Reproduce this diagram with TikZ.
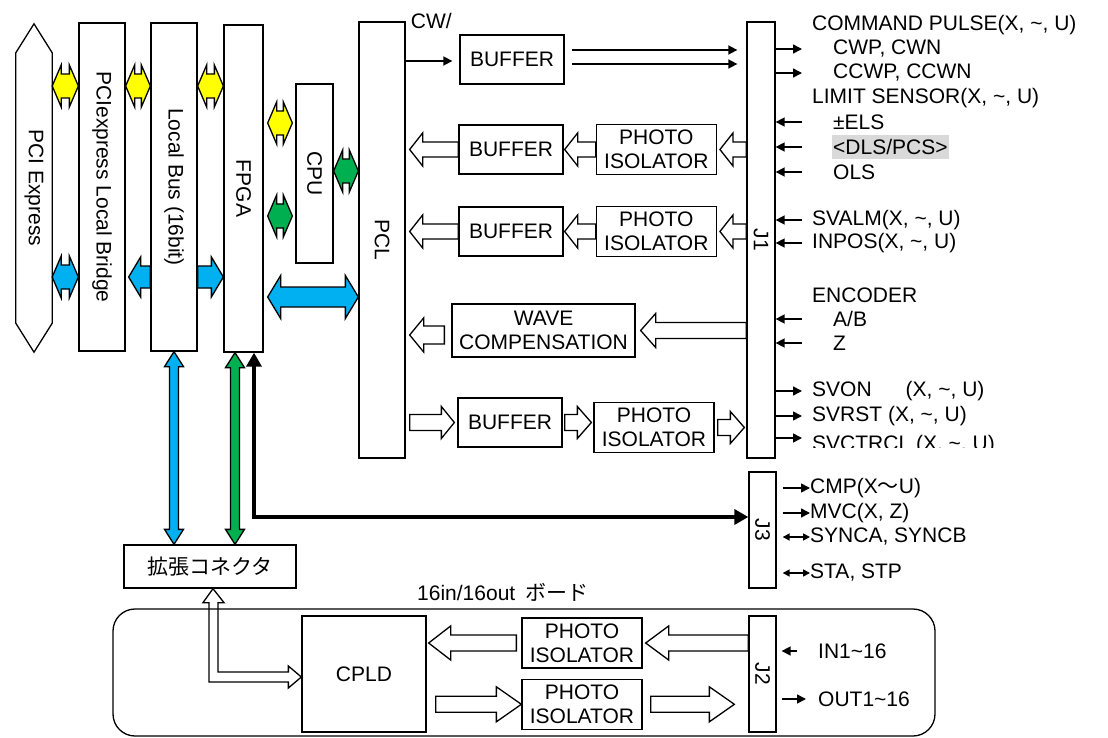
\documentclass[tikz,border=0pt]{standalone}
\usepackage{fontspec}
\setmainfont{Liberation Sans}
\newfontfamily\cjk{Noto Sans CJK JP}
\usepackage{graphicx}
\usepackage{tikz}
\usetikzlibrary{arrows.meta, positioning, calc}
\definecolor{busyellow}{HTML}{FFFF00}
\definecolor{busgreen}{HTML}{00B050}
\definecolor{busblue}{HTML}{00B0F0}
\definecolor{hilite}{HTML}{D9D9D9}
% block arrow: style, tail, tip, shaft half width, head half width, head length
\newcommand{\blkarrow}[6]{%
  \draw[#1] ($#2!#4pt!90:#3$) -- ($#3!#6pt!#2!#4pt!-90:#2$) -- ($#3!#6pt!#2!#5pt!-90:#2$) -- #3
    -- ($#3!#6pt!#2!#5pt!90:#2$) -- ($#3!#6pt!#2!#4pt!90:#2$) -- ($#2!#4pt!-90:#3$) -- cycle;}
\newcommand{\blkdarrow}[6]{%
  \draw[#1] #2 -- ($#2!#6pt!#3!#5pt!90:#3$) -- ($#2!#6pt!#3!#4pt!90:#3$) -- ($#3!#6pt!#2!#4pt!-90:#2$)
    -- ($#3!#6pt!#2!#5pt!-90:#2$) -- #3 -- ($#3!#6pt!#2!#5pt!90:#2$) -- ($#3!#6pt!#2!#4pt!90:#2$)
    -- ($#2!#6pt!#3!#4pt!-90:#3$) -- ($#2!#6pt!#3!#5pt!-90:#3$) -- cycle;}
\begin{document}
\begin{tikzpicture}[x=1pt, y=-1pt,
  font=\fontsize{21}{24}\selectfont,
  box/.style={draw, line width=1.3pt, fill=white, align=center, inner sep=0pt},
  pibox/.style={box, minimum width=120, minimum height=50},
  bufbox/.style={box, minimum width=104, minimum height=49},
  tag/.style={anchor=west, inner sep=0pt},
  hollow/.style={draw, line width=1.3pt, fill=white},
  ybus/.style={hollow, fill=busyellow},
  gbus/.style={hollow, fill=busgreen},
  bbus/.style={hollow, fill=busblue},
  sig/.style={-{Triangle[length=9pt, width=9pt]}, line width=1.6pt},
  sig2/.style={{Triangle[length=7pt, width=7pt]}-{Triangle[length=7pt, width=7pt]}, line width=1.6pt},
  heavy/.style={{Triangle[length=14pt, width=15pt]}-{Triangle[length=14pt, width=15pt]}, line width=4.5pt}
]
\useasboundingbox (0,0) rectangle (1108,738);

\node[minimum width=36, minimum height=270, inner sep=0pt] (pcie) at (34,188) {\rotatebox{-90}{PCI Express}};
\draw[line width=1.3pt] (pcie.north west) -- ($(pcie.north)+(0,-29)$) -- (pcie.north east) -- (pcie.south east) -- ($(pcie.south)+(0,29)$) -- (pcie.south west) -- cycle;
\node[box, minimum width=46, minimum height=328] (bridge) at (102,187) {\rotatebox{-90}{PCIexpress Local Bridge}};
\node[box, minimum width=46, minimum height=328] (lbus) at (174,187) {\rotatebox{-90}{Local Bus (16bit)}};
\node[box, minimum width=39, minimum height=327] (fpga) at (243.5,188.5) {\rotatebox{-90}{FPGA}};
\node[box, minimum width=37, minimum height=179] (cpu) at (314.5,173.5) {\rotatebox{-90}{CPU}};
\node[box, minimum width=46, minimum height=436] (pcl) at (382,240) {\rotatebox{-90}{PCL}};
\node[box, minimum width=28, minimum height=436] (j1) at (761,240) {\rotatebox{-90}{J1}};
\node[box, minimum width=27, minimum height=116] (j3) at (762.5,530) {\rotatebox{-90}{J3}};
\node[box, minimum width=27, minimum height=116] (j2) at (762.5,674) {\rotatebox{-90}{J2}};

\node[bufbox] (buf1) at (512,59.5) {BUFFER};
\node[bufbox] (buf2) at (511,149.5) {BUFFER};
\node[pibox, right=32pt of buf2] (pi2) {PHOTO\\ISOLATOR};
\node[bufbox] (buf3) at (511,231.5) {BUFFER};
\node[pibox, right=32pt of buf3] (pi3) {PHOTO\\ISOLATOR};
\node[box, minimum width=183, minimum height=53] (wave) at (543.5,330.5) {WAVE\\COMPENSATION};
\node[bufbox] (buf5) at (510,422.5) {BUFFER};
\node[pibox] (pi5) at (654,427.5) {PHOTO\\ISOLATOR};
\node[box, minimum width=172, minimum height=43] (conn) at (210,566.5) {\cjk 拡張コネクタ};
\node[box, minimum width=124, minimum height=116] (cpld) at (364,674) {CPLD};
\node[pibox] (pi6) at (582,643) {PHOTO\\ISOLATOR};
\node[pibox, below=10pt of pi6] (pi7) {PHOTO\\ISOLATOR};
\node[tag, anchor=west] (cw) at ([xshift=5pt]pcl.north east) {CW/};
\node[tag] (boardlbl) at (417,592) {16in/16out\hspace{10pt}{\cjk ボード}};

\coordinate (busrow) at (0,86);
\coordinate (cpuup) at (0,123);
\coordinate (cpupcl) at (0,171);
\coordinate (cpudn) at (0,216);
\coordinate (lbrow) at (0,277);
\coordinate (pclbus) at (0,297);
\coordinate (fpgaE) at ([xshift=4pt]fpga.east);
\coordinate (cpuW) at ([xshift=-3pt]cpu.west);
\coordinate (bridgeE) at ([xshift=3pt]bridge.east);
\blkdarrow{ybus}{(pcie.east |- busrow)}{(bridge.west |- busrow)}{12}{21}{9}
\blkdarrow{ybus}{(bridge.east |- busrow)}{(lbus.west |- busrow)}{12}{21}{9}
\blkdarrow{ybus}{(lbus.east |- busrow)}{(fpga.west |- busrow)}{12}{21}{9}
\blkdarrow{ybus}{(fpgaE |- cpuup)}{(cpuW |- cpuup)}{12}{21}{9}
\blkdarrow{gbus}{(cpu.east |- cpupcl)}{(pcl.west |- cpupcl)}{12}{21}{9}
\blkdarrow{gbus}{(fpgaE |- cpudn)}{(cpuW |- cpudn)}{12}{21}{9}
\blkdarrow{bbus}{(pcie.east |- lbrow)}{(bridge.west |- lbrow)}{12}{21}{9}
\blkarrow{bbus}{(lbus.west |- lbrow)}{(bridgeE |- lbrow)}{11}{20}{12}
\blkarrow{bbus}{(lbus.east |- lbrow)}{(fpga.west |- lbrow)}{11}{20}{12}
\blkdarrow{bbus}{(fpgaE |- pclbus)}{(pcl.west |- pclbus)}{10}{21.5}{13}

\coordinate (fpgaS1) at ([xshift=-8.5pt]fpga.south);
\coordinate (fpgaS2) at ([xshift=10.5pt]fpga.south);
\coordinate (cmprow) at (0,517);
\blkdarrow{bbus}{(lbus.south)}{(lbus.south |- conn.north)}{4.5}{9.5}{15}
\blkdarrow{gbus}{(fpgaS1)}{(fpgaS1 |- conn.north)}{4.5}{9.5}{15}
\draw[heavy] (fpgaS2) -- (fpgaS2 |- cmprow) -- (j3.west |- cmprow);

\coordinate (cwrow) at (0,61);
\coordinate (pulseA) at (0,50);
\coordinate (pulseB) at (0,64);
\coordinate (buf1W) at ([xshift=-7pt]buf1.west);
\coordinate (buf1E) at ([xshift=7pt]buf1.east);
\coordinate (j1W) at ([xshift=-9pt]j1.west);
\draw[sig] (pcl.east |- cwrow) -- (buf1W |- cwrow);
\draw[sig] (buf1E |- pulseA) -- (j1W |- pulseA);
\draw[sig] (buf1E |- pulseB) -- (j1W |- pulseB);

\coordinate (pclE) at ([xshift=4pt]pcl.east);
\coordinate (pi2E) at ([xshift=3pt]pi2.east);
\coordinate (buf2E) at ([xshift=1pt]buf2.east);
\coordinate (pi3E) at ([xshift=3pt]pi3.east);
\coordinate (buf3E) at ([xshift=1pt]buf3.east);
\blkarrow{hollow}{(j1.west |- pi2.east)}{(pi2E)}{7.5}{16.5}{13}
\blkarrow{hollow}{(pi2.west)}{(buf2E |- pi2.west)}{7.5}{16.5}{13}
\blkarrow{hollow}{(buf2.west)}{(pclE |- buf2.west)}{7.5}{16.5}{13}
\blkarrow{hollow}{(j1.west |- pi3.east)}{(pi3E)}{7.5}{16.5}{13}
\blkarrow{hollow}{(pi3.west)}{(buf3E |- pi3.west)}{7.5}{16.5}{13}
\blkarrow{hollow}{(buf3.west)}{(pclE |- buf3.west)}{7.5}{16.5}{13}

\coordinate (waveE) at ([xshift=5pt]wave.east);
\coordinate (waveW) at ([xshift=-7pt]wave.west);
\coordinate (wavelo) at (0,335);
\blkarrow{hollow}{(j1.west |- wave.east)}{(waveE)}{8}{17}{15}
\blkarrow{hollow}{(waveW |- wavelo)}{(pclE |- wavelo)}{9}{17}{14}

\coordinate (buf5W) at ([xshift=-3pt]buf5.west);
\coordinate (buf5E) at ([xshift=2pt]buf5.east);
\coordinate (pi5W) at ([xshift=-2pt]pi5.west);
\coordinate (pi5E) at ([xshift=3pt]pi5.east);
\coordinate (j1Wb) at ([xshift=-2pt]j1.west);
\blkarrow{hollow}{(pclE |- buf5.west)}{(buf5W)}{8}{16}{13}
\blkarrow{hollow}{(buf5E)}{(pi5W |- buf5E)}{8}{16}{14}
\blkarrow{hollow}{(pi5E)}{(j1Wb |- pi5E)}{8}{16}{14}

\coordinate (pi6W) at ([xshift=-5pt]pi6.west);
\coordinate (pi6E) at ([xshift=3pt]pi6.east);
\coordinate (cpldE) at ([xshift=2pt]cpld.east);
\coordinate (cpldE2) at ([xshift=9pt]cpld.east);
\coordinate (pi7E) at ([xshift=8pt]pi7.east);
\coordinate (j2W) at ([xshift=-14pt]j2.west);
\blkarrow{hollow}{(j2.west |- pi6.east)}{(pi6E)}{8}{17}{23}
\blkarrow{hollow}{(pi6W)}{(cpldE |- pi6W)}{8}{17}{22}
\blkarrow{hollow}{(cpldE2 |- pi7.west)}{(pi7.west)}{8}{17.5}{25}
\blkarrow{hollow}{(pi7E)}{(j2W |- pi7E)}{8}{17.5}{25}

\coordinate (lup) at ([xshift=3pt]conn.south);
\coordinate (lrt) at ([yshift=-3pt]cpld.west);
\draw[hollow] let \p1=(lup), \p2=(lrt) in
  (\p1) -- (\x1+11pt,\y1-14pt) -- (\x1+5pt,\y1-14pt) -- (\x1+5pt,\y2+5pt) -- (\x2-13pt,\y2+5pt)
  -- (\x2-13pt,\y2+11pt) -- (\p2) -- (\x2-13pt,\y2-11pt) -- (\x2-13pt,\y2-5pt) -- (\x1-4pt,\y2-5pt)
  -- (\x1-4pt,\y1-14pt) -- (\x1-10pt,\y1-14pt) -- cycle;
\node[draw, line width=1.3pt, rounded corners=22pt, minimum width=822, minimum height=127] (board) at (524,672.5) {};

\node[tag] (cmd) at (812,25) {COMMAND PULSE(X, \textasciitilde, U)};
\node[tag] (cwp) at (833,49) {CWP, CWN};
\node[tag] (ccwp) at (833,73) {CCWP, CCWN};
\node[tag] (lim) at (812,98) {LIMIT SENSOR(X, \textasciitilde, U)};
\node[tag] (els) at (833,122) {±ELS};
\node[tag, fill=hilite, minimum height=24, inner xsep=1pt] (dls) at (832,147) {<DLS/PCS>};
\node[tag] (ols) at (833,172) {OLS};
\node[tag] (svalm) at (812,220) {SVALM(X, \textasciitilde, U)};
\node[tag] (inpos) at (812,243) {INPOS(X, \textasciitilde, U)};
\node[tag] (enc) at (812,295) {ENCODER};
\node[tag] (ab) at (833,319) {A/B};
\node[tag] (zph) at (833,343) {Z};
\node[tag] (svon) at (812,391) {SVON\hspace{34pt}(X, \textasciitilde, U)};
\node[tag] (svrst) at (812,416) {SVRST (X, \textasciitilde, U)};
\begin{scope}
  \clip (805,425) rectangle (1000,447);
  \node[tag] (svctrcl) at (812,445) {SVCTRCL (X, \textasciitilde, U)};
\end{scope}
\coordinate (ctrlrow) at (0,438);

\coordinate (sigx) at (802,0);
\draw[sig] (j1.east |- cwp) -- (sigx |- cwp);
\draw[sig] (j1.east |- ccwp) -- (sigx |- ccwp);
\draw[sig] (sigx |- els) -- (j1.east |- els);
\draw[sig] (sigx |- dls) -- (j1.east |- dls);
\draw[sig] (sigx |- ols) -- (j1.east |- ols);
\draw[sig] (sigx |- svalm) -- (j1.east |- svalm);
\draw[sig] (sigx |- inpos) -- (j1.east |- inpos);
\draw[sig] (sigx |- ab) -- (j1.east |- ab);
\draw[sig] (sigx |- zph) -- (j1.east |- zph);
\draw[sig] (j1.east |- svon) -- (sigx |- svon);
\draw[sig] (j1.east |- svrst) -- (sigx |- svrst);
\draw[sig] (j1.east |- ctrlrow) -- (sigx |- ctrlrow);

\node[tag] (cmp) at (810,488) {CMP(X{\cjk ～}U)};
\node[tag] (mvc) at (810,513) {MVC(X, Z)};
\node[tag] (sync) at (810,537) {SYNCA, SYNCB};
\node[tag] (sta) at (810,573) {STA, STP};
\coordinate (j3R) at ([xshift=6pt]j3.east);
\draw[sig] (j3R |- cmp) -- (cmp.west);
\draw[sig] (j3R |- mvc) -- (mvc.west);
\draw[sig2] (j3R |- sync) -- (sync.west);
\draw[sig2] (j3R |- sta) -- (sta.west);

\node[tag] (inlbl) at (818,651) {IN1\textasciitilde 16};
\node[tag] (outlbl) at (818,699) {OUT1\textasciitilde 16};
\coordinate (j2R) at ([xshift=5pt]j2.east);
\coordinate (j2x) at (797,0);
\coordinate (j2xo) at (806,0);
\draw[sig] (j2x |- inlbl) -- (j2R |- inlbl);
\draw[sig] (j2R |- outlbl) -- (j2xo |- outlbl);
\end{tikzpicture}
\end{document}
